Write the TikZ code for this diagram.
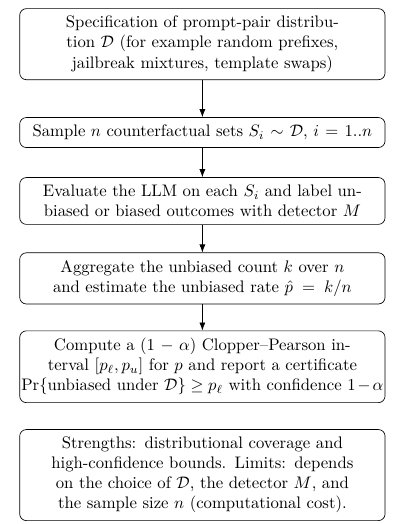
\documentclass[tikz,border=0pt]{standalone}
\usepackage{amsmath,amssymb}
\usetikzlibrary{arrows.meta}

\begin{document}
\begin{tikzpicture}[
    stage/.style={
        rectangle,
        draw,
        rounded corners,
        text width=7.62cm,
        align=center,
        inner xsep=1pt,
        inner ysep=4.5pt
    }
]

\useasboundingbox (0,0) rectangle (8.38,-11.03);

\node[stage] (spec) at (4.26,-0.93) {Specification of prompt-pair distribution $\mathcal{D}$ (for example random prefixes, jailbreak mixtures, template swaps)};
\node[stage] (sample) at (4.26,-2.79) {Sample $n$ counterfactual sets $S_i \sim \mathcal{D}$, $i = 1..n$};
\node[stage] (eval) at (4.26,-4.23) {Evaluate the LLM on each $S_i$ and label unbiased or biased outcomes with detector $M$};
\node[stage] (agg) at (4.26,-5.86) {Aggregate the unbiased count $k$ over $n$ and estimate the unbiased rate $\hat{p} = k/n$};
\node[stage] (cert) at (4.26,-7.72) {Compute a $(1-\alpha)$ Clopper--Pearson interval $[p_\ell, p_u]$ for $p$ and report a certificate $\Pr\{\text{unbiased under }\mathcal{D}\} \geq p_\ell$ with confidence $1-\alpha$};
\node[stage] (notes) at (4.26,-10.00) {Strengths: distributional coverage and high-confidence bounds. Limits: depends on the choice of $\mathcal{D}$, the detector $M$, and the sample size $n$ (computational cost).};

\draw[-Latex] (spec) -- (sample);
\draw[-Latex] (sample) -- (eval);
\draw[-Latex] (eval) -- (agg);
\draw[-Latex] (agg) -- (cert);

\end{tikzpicture}
\end{document}
